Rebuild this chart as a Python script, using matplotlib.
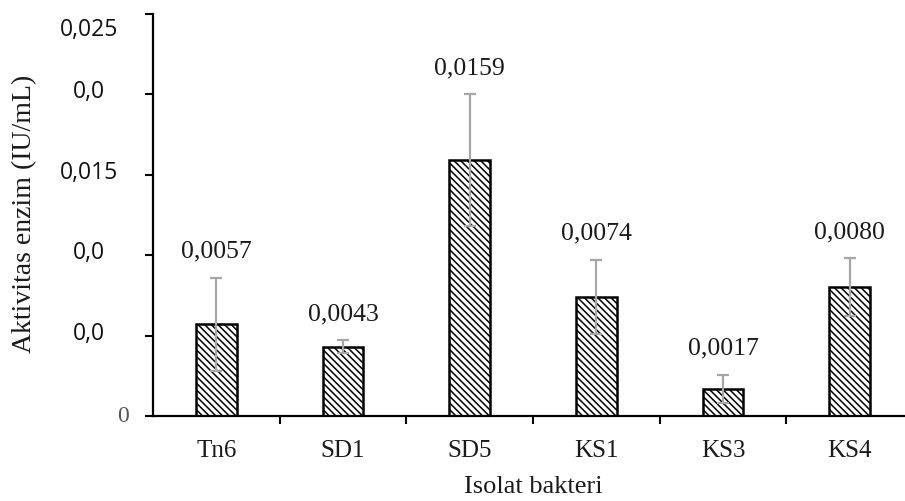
import matplotlib
matplotlib.use("Agg")
import matplotlib.pyplot as plt
import matplotlib.transforms as mtransforms
import numpy as np

categories = ["Tn6", "SD1", "SD5", "KS1", "KS3", "KS4"]
values = [0.0057, 0.0043, 0.0159, 0.0074, 0.0017, 0.0080]
errors = [0.0029, 0.0004, 0.0041, 0.0023, 0.00087, 0.0018]
value_labels = ["0,0057", "0,0043", "0,0159", "0,0074", "0,0017", "0,0080"]
ytick_values = [0.0, 0.005, 0.01, 0.015, 0.02, 0.025]
ytick_labels = ["0", "0,0", "0,0", "0,015", "0,0", "0,025"]

plt.rcParams['hatch.linewidth'] = 1.1

fig = plt.figure(figsize=(9.05, 5.01), dpi=100)
ax = fig.add_axes([153/905, (501-416)/501, 760/905, (416-14)/501])

x = np.arange(len(categories))
ax.bar(x, values, width=0.323, color='white', edgecolor='black',
       linewidth=1.8, hatch='\\\\\\\\\\', zorder=2)
eb = ax.errorbar(x, values, yerr=errors, fmt='none', ecolor='#a6a6a6',
                 elinewidth=1.6, capsize=4.5, capthick=1.6, zorder=3)
for cl in eb[1]:
    cl.set_color('#7a7a7a')

for xi, v, e, lab in zip(x, values, errors, value_labels):
    ax.annotate(lab, (xi, v + e), xytext=(0, 19), textcoords='offset points',
                ha='center', va='center', fontsize=18.5,
                family='Liberation Serif', color='#1a1a1a')

ax.set_xlim(-0.5, 5.5)
ax.set_ylim(0, 0.025)

for s in ['top', 'right']:
    ax.spines[s].set_visible(False)
for s in ['left', 'bottom']:
    ax.spines[s].set_linewidth(1.6)

ax.set_xticks(x)
ax.set_xticklabels(categories, fontsize=18, family='Liberation Serif', color='#1a1a1a')
ax.set_xticks(np.arange(0.5, 5.5, 1.0), minor=True)
ax.tick_params(axis='x', which='major', length=0, pad=17)
ax.tick_params(axis='x', which='minor', direction='out', length=6, width=1.5)

ax.set_yticks(ytick_values)
ax.set_yticklabels([""] * len(ytick_values))
ax.tick_params(axis='y', direction='out', length=6, width=1.5)

for yv, lab in zip(ytick_values, ytick_labels):
    if lab == "0":
        t = mtransforms.offset_copy(ax.get_yaxis_transform(), fig=fig, x=-30, y=0, units='dots')
        ax.text(0, yv, lab, transform=t, ha='center', va='center', fontsize=17,
                family='Liberation Serif', color='#555555')
    else:
        dy = -16 if yv == 0.025 else 2
        t = mtransforms.offset_copy(ax.get_yaxis_transform(), fig=fig, x=-64, y=dy, units='dots')
        ax.text(0, yv, lab, transform=t, ha='center', va='center', fontsize=16.5,
                family='Open Sans', color='#111111')

fig.text(25/905, 1 - 214/501, "Aktivitas enzim (IU/mL)", rotation=90,
         ha='center', va='center', fontsize=20, family='Liberation Serif', color='#1a1a1a')
fig.text(533/905, 1 - 487/501, "Isolat bakteri", ha='center', va='center',
         fontsize=19, family='Liberation Serif', color='#1a1a1a')

fig.savefig("out.png", dpi=100)
